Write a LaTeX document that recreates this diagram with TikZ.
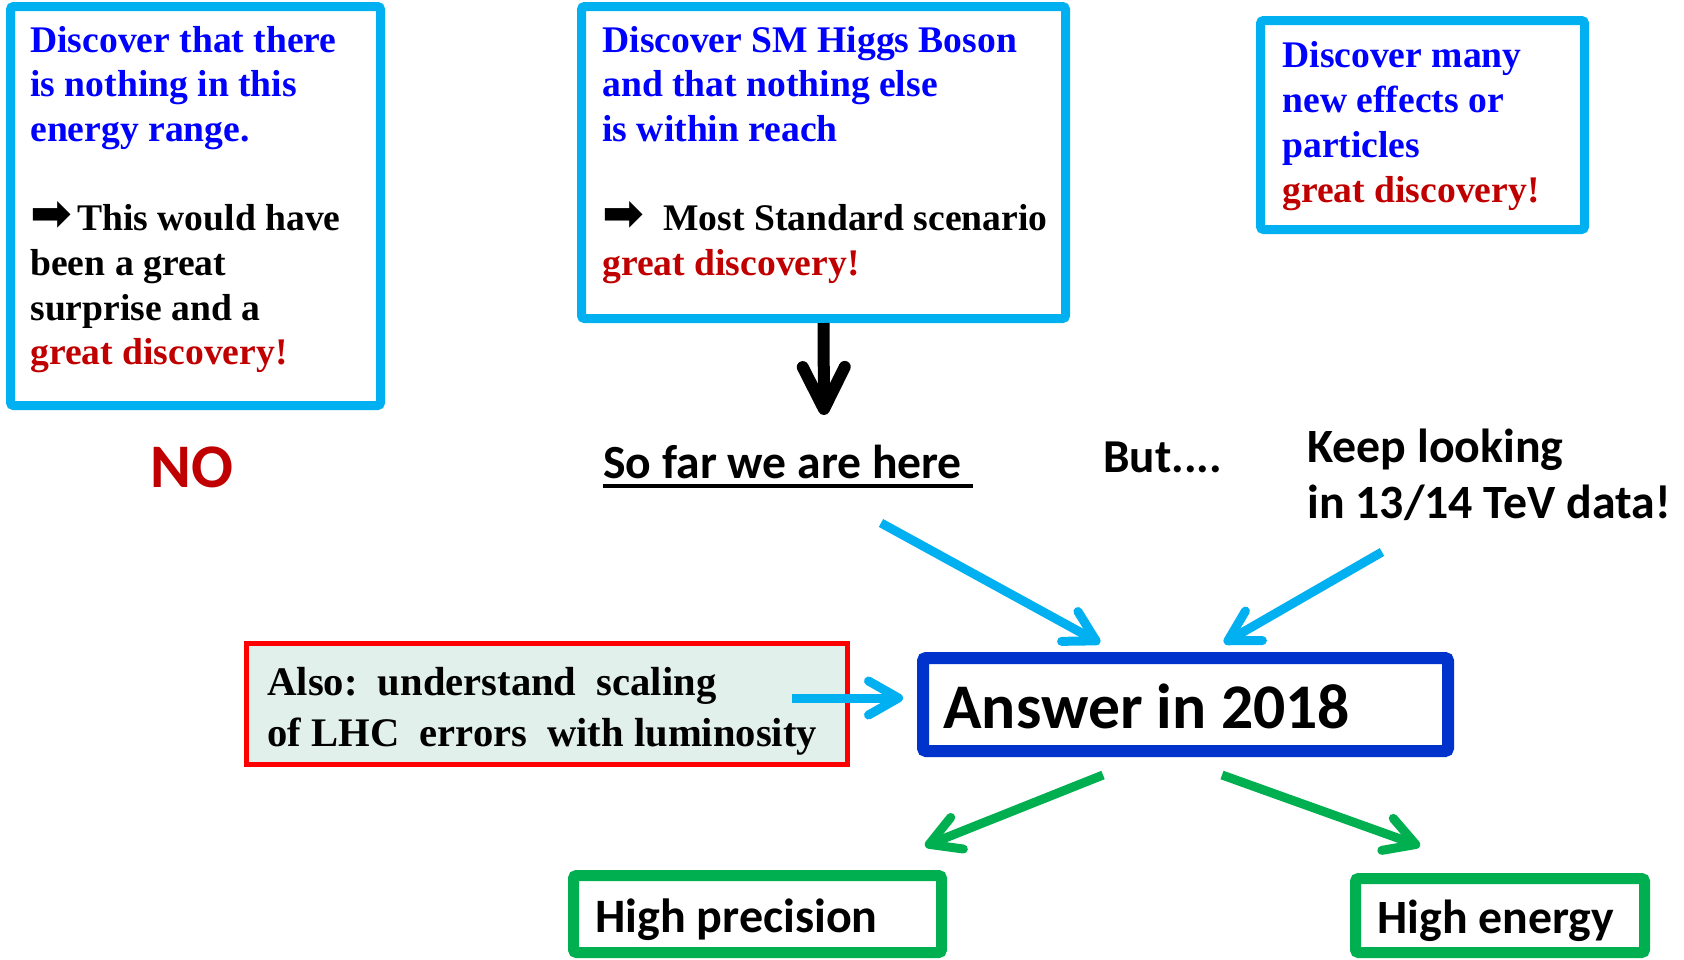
\documentclass[tikz,border=0pt]{standalone}
\usepackage{fontspec}
\setmainfont{Liberation Serif}
\newfontfamily\calfont{Carlito}
\newfontfamily\symfont{DejaVu Sans}
\usetikzlibrary{arrows.meta}
\definecolor{lblue}{HTML}{00B0F0}
\definecolor{tblue}{HTML}{0000FF}
\definecolor{dred}{HTML}{C00000}
\definecolor{grn}{HTML}{00B050}
\definecolor{ablue}{HTML}{0033CC}
\definecolor{rfill}{HTML}{E2F0EB}
\definecolor{rbord}{HTML}{FF0000}
\newcommand{\arr}{{\symfont\fontsize{25pt}{25pt}\selectfont ➡}}
\begin{document}
\begin{tikzpicture}[x=0.5pt,y=-0.5pt,
  bluebox/.style={draw=lblue, line width=4.5pt, rounded corners=1.5pt, inner sep=0pt},
  greenbox/.style={draw=grn, line width=5.5pt, rounded corners=1.5pt, inner sep=0pt},
  txt/.style={anchor=base west, inner sep=0pt},
  bluearrow/.style={draw=lblue, line width=4.5pt, -{Straight Barb[round, length=15pt, width=17pt]}},
  greenarrow/.style={draw=grn, line width=4.5pt, -{Straight Barb[round, length=15pt, width=17pt]}},
  blackarrow/.style={draw=black, line width=6pt, -{Straight Barb[round, length=21pt, width=21pt]}}
]
\useasboundingbox (0,0) rectangle (1684,959);

% top boxes
\node (box1) [bluebox, minimum width=185pt, minimum height=199.5pt] at (195.5,206) {};
\node (box2) [bluebox, minimum width=242pt, minimum height=156pt] at (823.5,162.5) {};
\node (box3) [bluebox, minimum width=162pt, minimum height=104.5pt] at (1422.5,125) {};

\node (t1) [txt] at (30,52) {\parbox[t]{180pt}{\raggedright\fontsize{18.8pt}{22.35pt}\selectfont\bfseries
\textcolor{tblue}{Discover that there}\\
\textcolor{tblue}{is nothing in this}\\
\textcolor{tblue}{energy range.}\\[22.35pt]
\arr\hspace{2.5pt}This would have\\
been a great\\
surprise and a\\
\textcolor{dred}{great discovery!}}};

\node (t2) [txt] at (602,52) {\parbox[t]{260pt}{\raggedright\fontsize{18.8pt}{22.35pt}\selectfont\bfseries
\textcolor{tblue}{Discover SM Higgs Boson}\\
\textcolor{tblue}{and that nothing else}\\
\textcolor{tblue}{is within reach}\\[22.35pt]
\arr\hspace{9.5pt}Most Standard scenario\\
\textcolor{dred}{great discovery!}}};

\node (t3) [txt] at (1282,67) {\parbox[t]{150pt}{\raggedright\fontsize{18.8pt}{22.5pt}\selectfont\bfseries
\textcolor{tblue}{Discover many}\\
\textcolor{tblue}{new effects or}\\
\textcolor{tblue}{particles}\\
\textcolor{dred}{great discovery!}}};

% middle texts
\node (no) [anchor=base, inner sep=0pt, text=dred, font=\calfont\bfseries\fontsize{31pt}{31pt}\selectfont] at (192,487) {NO};
\node (sofar) [txt, font=\calfont\bfseries\fontsize{23.8pt}{28pt}\selectfont] at (603,478) {So far we are here};
\draw[line width=2pt] ([yshift=-4pt]sofar.base west) -- ++(370,0);
\node (but) [txt, font=\calfont\bfseries\fontsize{23.6pt}{28pt}\selectfont] at (1103,472) {But....};
\node (keep) [txt] at (1307,462) {\parbox[t]{200pt}{\calfont\bfseries\fontsize{23.9pt}{28pt}\selectfont Keep looking\\ in 13/14 TeV data!}};

% black arrow
\coordinate (btip) at (824,415);
\draw[blackarrow] (box2.south) -- (btip);

% red box
\node (rbox) [draw=rbord, fill=rfill, line width=2.5pt, minimum width=300.75pt, minimum height=60.5pt, inner sep=0pt] at (546.75,704) {};
\node (rtxt) [txt] at (267,695) {\parbox[t]{300pt}{\bfseries\fontsize{20.3pt}{25.8pt}\selectfont Also:\ \ understand\ \ scaling\\ of LHC\ \ errors\ \ with luminosity}};

% answer box
\node (ans) [draw=ablue, line width=6pt, rounded corners=1.5pt, minimum width=262.5pt, minimum height=46.5pt, inner sep=0pt] at (1185.5,704.5) {};
\node (anstxt) [txt, font=\calfont\bfseries\fontsize{31.8pt}{36pt}\selectfont] at (943,728) {Answer in 2018};

% bottom boxes
\node (hp) [greenbox, minimum width=184pt, minimum height=38.5pt] at (757.5,914) {};
\node (hptxt) [txt, font=\calfont\bfseries\fontsize{24pt}{28pt}\selectfont] at (595,932) {High precision};
\node (he) [greenbox, minimum width=144.5pt, minimum height=37pt] at (1500,915.5) {};
\node (hetxt) [txt, font=\calfont\bfseries\fontsize{23.9pt}{28pt}\selectfont] at (1377,933) {High energy};

% blue arrows
\coordinate (b1s) at (881,523);
\coordinate (b1e) at (1100,643);
\coordinate (b2s) at (1382,552);
\coordinate (b2e) at (1224,643);
\coordinate (b3s) at (792,698);
\coordinate (b3e) at (903,698);
\draw[bluearrow] (b1s) -- (b1e);
\draw[bluearrow] (b2s) -- (b2e);
\draw[bluearrow] (b3s) -- (b3e);

% green arrows
\coordinate (g1s) at (1103,775);
\coordinate (g1e) at (925,846);
\coordinate (g2s) at (1222,775);
\coordinate (g2e) at (1420,846);
\draw[greenarrow] (g1s) -- (g1e);
\draw[greenarrow] (g2s) -- (g2e);
\end{tikzpicture}
\end{document}
